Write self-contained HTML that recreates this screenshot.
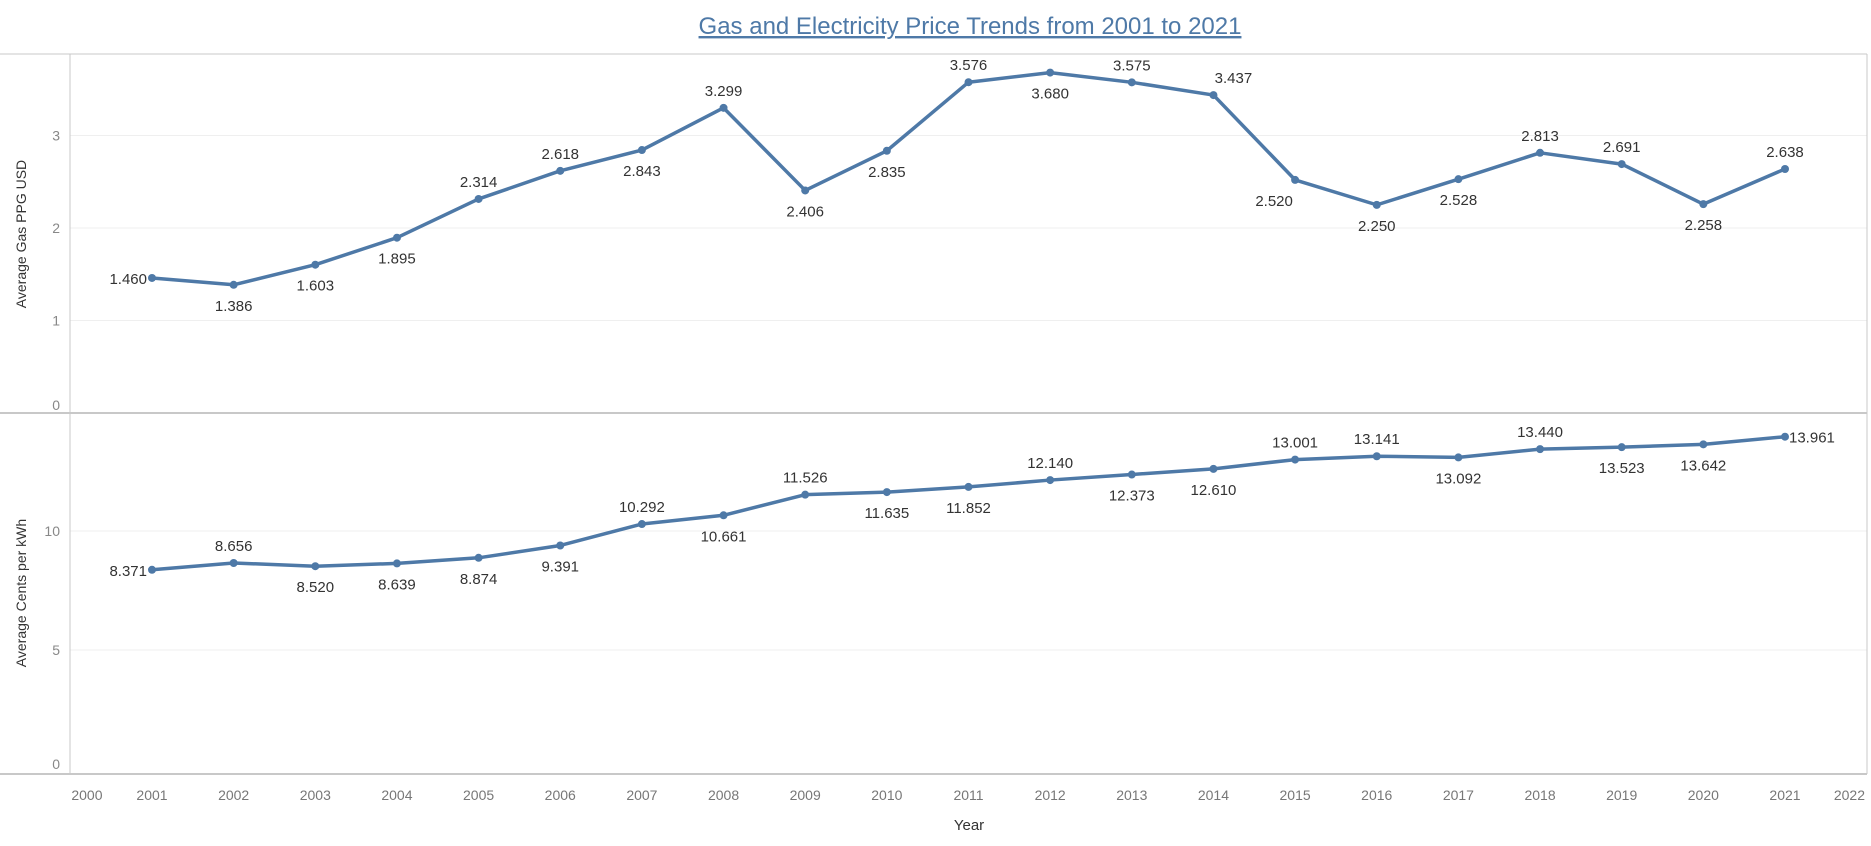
<!DOCTYPE html>
<html><head><meta charset="utf-8"><style>
body{margin:0;background:#fff;font-family:"Liberation Sans",sans-serif}
svg{display:block}
</style></head><body>
<svg id="c" width="1871" height="846" xmlns="http://www.w3.org/2000/svg">
<text x="970" y="34" text-anchor="middle" font-size="24" fill="#4e79a7" text-decoration="underline">Gas and Electricity Price Trends from 2001 to 2021</text>
<text x="969" y="830" text-anchor="middle" font-size="15" fill="#333">Year</text>
<text transform="translate(26,234) rotate(-90)" text-anchor="middle" font-size="14" fill="#333">Average Gas PPG USD</text>
<text transform="translate(26,593) rotate(-90)" text-anchor="middle" font-size="14" fill="#333">Average Cents per kWh</text>
<g id="g"></g>
</svg>
<script>
const years=[2001,2002,2003,2004,2005,2006,2007,2008,2009,2010,2011,2012,2013,2014,2015,2016,2017,2018,2019,2020,2021];
const xTicks=[2000,2001,2002,2003,2004,2005,2006,2007,2008,2009,2010,2011,2012,2013,2014,2015,2016,2017,2018,2019,2020,2021,2022];
const gasValues=[1.460,1.386,1.603,1.895,2.314,2.618,2.843,3.299,2.406,2.835,3.576,3.680,3.575,3.437,2.520,2.250,2.528,2.813,2.691,2.258,2.638];
const gasPos=['l','b','b','b','a','a','b','a','b','b','a','b','a','ar','bl','b','b','a','a','b','a'];
const gasTicks=[0,1,2,3];
const elecValues=[8.371,8.656,8.520,8.639,8.874,9.391,10.292,10.661,11.526,11.635,11.852,12.140,12.373,12.610,13.001,13.141,13.092,13.440,13.523,13.642,13.961];
const elecPos=['l','a','b','b','b','b','a','b','a','b','b','a','b','b','a','a','b','a','b','b','r'];
const elecTicks=[0,5,10];

const NS='http://www.w3.org/2000/svg';
const G=document.getElementById('g');
function mk(t,a,p){const e=document.createElementNS(NS,t);for(const k in a)e.setAttribute(k,a[k]);(p||G).appendChild(e);return e;}
const L=70,R=1867;
const x=y=>152+(y-2001)*81.65;
const yGas=v=>413-v*92.5;
const yEl=v=>769-v*23.8;

gasTicks.forEach(t=>{
 if(t>0){const l=mk('line',{x1:L,x2:R,y1:yGas(t),y2:yGas(t),stroke:'#efefef','stroke-width':1});
 
 }
 const tx=mk('text',{x:60,y:yGas(t)+(t==0?-3:5),'text-anchor':'end','font-size':14,fill:'#888'});tx.textContent=t;
 
 
});
elecTicks.forEach(t=>{
 if(t>0){const l=mk('line',{x1:L,x2:R,y1:yEl(t),y2:yEl(t),stroke:'#efefef','stroke-width':1});
 
 }
 const tx=mk('text',{x:60,y:yEl(t)+(t==0?0:5),'text-anchor':'end','font-size':14,fill:'#888'});tx.textContent=t;
 
 
});
[[0,54,R,54],[0,413,R,413],[0,774,R,774],[L,54,L,774],[R,54,R,774]].forEach(s=>{
 const l=mk('line',{x1:s[0],y1:s[1],x2:s[2],y2:s[3],stroke:'#c8c8c8','stroke-width':s[1]==s[3]&&s[1]>100?2:1});
 
 
});
xTicks.forEach((t,i)=>{
 const tx=mk('text',{x:i==0?x(t)+1:x(t),y:800,'text-anchor':i==0?'start':(i==xTicks.length-1?'end':'middle'),'font-size':14,fill:'#777'});
 if(i==xTicks.length-1)tx.setAttribute('x',R-2);
 tx.textContent=t;
 
 
});
function series(vals,pos,ys,name){
 const p=mk('polyline',{points:vals.map((v,i)=>x(years[i])+','+ys(v)).join(' '),fill:'none',stroke:'#4e79a7','stroke-width':3.5,'stroke-linejoin':'round'});
 
 
 vals.forEach((v,i)=>{
  const cx=x(years[i]),cy=ys(v);
  const c=mk('circle',{cx:cx,cy:cy,r:4,fill:'#4e79a7'});
  
  
  let tx,ty,an='middle';
  const ps=pos[i];
  if(ps=='a'){tx=cx;ty=cy-12;}
  else if(ps=='ar'){tx=cx+20;ty=cy-12;}
  else if(ps=='b'){tx=cx;ty=cy+26;}
  else if(ps=='bl'){tx=cx-21;ty=cy+26;}
  else if(ps=='l'){tx=cx-5;ty=cy+6;an='end';}
  else{tx=cx+4;ty=cy+6;an='start';}
  const t=mk('text',{x:tx,y:ty,'text-anchor':an,'font-size':15,fill:'#333'});t.textContent=v.toFixed(3);
  
  
 });
}
series(gasValues,gasPos,yGas,'gas');
series(elecValues,elecPos,yEl,'electricity');
</script>
</body></html>
